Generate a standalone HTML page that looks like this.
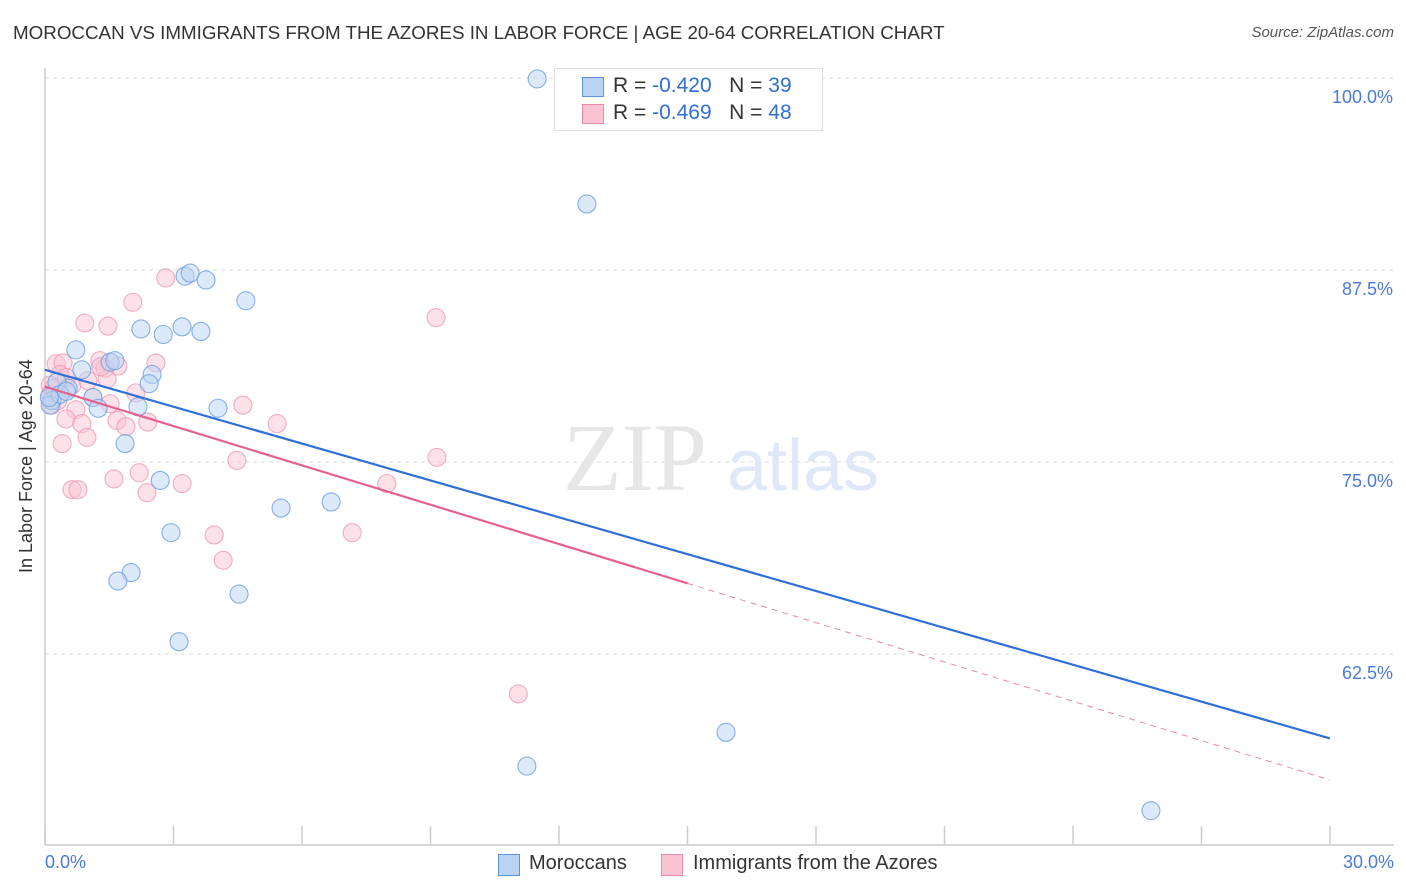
<!DOCTYPE html>
<html><head><meta charset="utf-8"><style>
body{margin:0;background:#fff;font-family:"Liberation Sans",sans-serif}
#wrap{position:relative;width:1406px;height:892px;overflow:hidden}
.t{position:absolute;white-space:nowrap}
</style></head><body>
<div id="wrap">
<div class="t" style="left:13px;top:22px;font-size:18.8px;color:#333">MOROCCAN VS IMMIGRANTS FROM THE AZORES IN LABOR FORCE | AGE 20-64 CORRELATION CHART</div>
<div class="t" style="right:12px;top:24px;font-size:15px;color:#555;font-style:italic">Source: ZipAtlas.com</div>
<svg id="svg" width="1406" height="892" style="position:absolute;left:0;top:0"></svg>
</div>
<script>
const xTicks=[0,3,6,9,12,15,18,21,24,27,30];
const yTicks=[100,87.5,75,62.5];
const yTickLabels=["100.0%","87.5%","75.0%","62.5%"];
const blueX=[11.49,12.65,3.27,3.39,3.76,4.69,2.24,2.76,3.2,3.64,0.72,1.52,1.63,0.86,2.5,2.43,0.54,0.28,1.12,1.24,2.17,4.04,0.16,0.12,1.87,2.69,5.51,6.68,2.94,2.01,1.7,4.53,3.13,15.9,11.25,25.82,0.35,0.1,0.5];
const blueY=[99.94,91.8,87.1,87.3,86.85,85.5,83.66,83.3,83.8,83.5,82.3,81.5,81.6,81.0,80.7,80.1,79.8,80.2,79.2,78.5,78.6,78.5,79.0,78.7,76.2,73.8,72.0,72.4,70.4,67.8,67.25,66.4,63.3,57.4,55.2,52.3,79.4,79.2,79.6];
const pinkX=[2.82,2.05,0.93,1.47,9.13,0.26,0.42,1.28,1.4,1.7,2.59,0.35,1.45,0.12,0.63,2.12,1.12,1.52,4.62,0.16,0.72,1.68,2.4,0.49,5.42,0.86,1.89,0.98,0.4,4.48,9.15,2.2,1.61,3.2,0.63,0.77,2.38,7.98,3.95,7.17,4.16,11.05,0.12,0.3,1.0,0.2,0.5,1.3];
const pinkY=[86.98,85.4,84.05,83.85,84.4,81.4,81.45,81.6,81.1,81.25,81.45,80.7,80.4,80.0,80.0,79.5,79.2,78.8,78.7,78.7,78.4,77.7,77.6,77.8,77.5,77.5,77.3,76.6,76.2,75.1,75.3,74.3,73.9,73.6,73.2,73.2,73.0,73.6,70.25,70.4,68.6,59.9,79.4,79.0,80.3,79.8,80.5,81.2];
const blueLine=[[0,81.0],[30,57.0]];
const pinkLine=[[0,79.9],[15,67.1],[30,54.3]];
const X=v=>45+v/30*1285, Y=v=>78+(100-v)/12.5*192;
const svg=document.getElementById('svg');const NS='http://www.w3.org/2000/svg';
function mk(tag,attrs){const e=document.createElementNS(NS,tag);for(const k in attrs)e.setAttribute(k,attrs[k]);svg.appendChild(e);return e;}
yTicks.forEach((v,i)=>{const l=mk('line',{x1:45,x2:1394,y1:Y(v),y2:Y(v),stroke:'#ddd','stroke-dasharray':'4 4'});


const t=mk('text',{x:1393,y:Y(v)+25,'text-anchor':'end','font-size':18,fill:'#4a7ad8'});t.textContent=yTickLabels[i];

});
const ax=mk('line',{x1:45,x2:45,y1:68,y2:845,stroke:'#ccc','stroke-width':1.5});


const bx=mk('line',{x1:45,x2:1394,y1:845,y2:845,stroke:'#ccc','stroke-width':1.5});


xTicks.forEach(v=>{const l=mk('line',{x1:X(v),x2:X(v),y1:826,y2:845,stroke:'#ccc','stroke-width':1.5});

});
const wm=mk('text',{x:635,y:490,'text-anchor':'middle','font-size':96,fill:'#e6e6e6','font-family':'Liberation Serif'});wm.textContent='ZIP';


const wm2=mk('text',{x:803,y:490,'text-anchor':'middle','font-size':72,fill:'#dfe8f6'});wm2.textContent='atlas';


function pts(xs,ys,fill,stroke,name){xs.forEach((x,i)=>{const c=mk('circle',{cx:X(x),cy:Y(ys[i]),r:9,fill:fill,'fill-opacity':0.5,stroke:stroke,'stroke-opacity':0.8,'stroke-width':1.1});

});}
pts(pinkX,pinkY,'#f9c3d2','#ec9ab3','azores-point');
pts(blueX,blueY,'#b9d3f3','#6a9de0','moroccan-point');
const bl=mk('line',{x1:X(blueLine[0][0]),y1:Y(blueLine[0][1]),x2:X(blueLine[1][0]),y2:Y(blueLine[1][1]),stroke:'#2f6fd6','stroke-width':2.2});


const pl=mk('line',{x1:X(pinkLine[0][0]),y1:Y(pinkLine[0][1]),x2:X(pinkLine[1][0]),y2:Y(pinkLine[1][1]),stroke:'#e5628c','stroke-width':2.2});


const pd=mk('line',{x1:X(pinkLine[1][0]),y1:Y(pinkLine[1][1]),x2:X(pinkLine[2][0]),y2:Y(pinkLine[2][1]),stroke:'#e889a6','stroke-width':1,'stroke-dasharray':'6 5'});


</script>
<div class="t" style="left:16px;top:573px;transform:rotate(-90deg);transform-origin:0 0;font-size:18px;color:#333">In Labor Force | Age 20-64</div>
<div class="t" style="left:45px;top:852px;font-size:18px;color:#4a7ad8">0.0%</div>
<div class="t" style="right:12px;top:852px;font-size:18px;color:#4a7ad8">30.0%</div>
<div style="position:absolute;left:554px;top:68px;width:267px;height:61px;border:1px solid #ddd;background:#fff;font-size:21px;color:#333">
<div style="position:absolute;left:27px;top:8px;width:20px;height:18px;background:#b9d3f3;border:1px solid #5b93dd"></div>
<div class="t" style="left:58px;top:5px">R = <span style="color:#2f6fd6">-0.420</span>&nbsp;&nbsp;&nbsp;N = <span style="color:#2f6fd6">39</span></div>
<div style="position:absolute;left:27px;top:35px;width:20px;height:18px;background:#f9c3d2;border:1px solid #e889a6"></div>
<div class="t" style="left:58px;top:32px">R = <span style="color:#2f6fd6">-0.469</span>&nbsp;&nbsp;&nbsp;N = <span style="color:#2f6fd6">48</span></div>
</div>
<div style="position:absolute;left:498px;top:854px;width:20px;height:20px;background:#b9d3f3;border:1px solid #5b93dd"></div>
<div class="t" style="left:529px;top:852px;font-size:20px;color:#333">Moroccans</div>
<div style="position:absolute;left:661px;top:854px;width:20px;height:20px;background:#f9c3d2;border:1px solid #e889a6"></div>
<div class="t" style="left:693px;top:852px;font-size:20px;color:#333">Immigrants from the Azores</div>
</body></html>
